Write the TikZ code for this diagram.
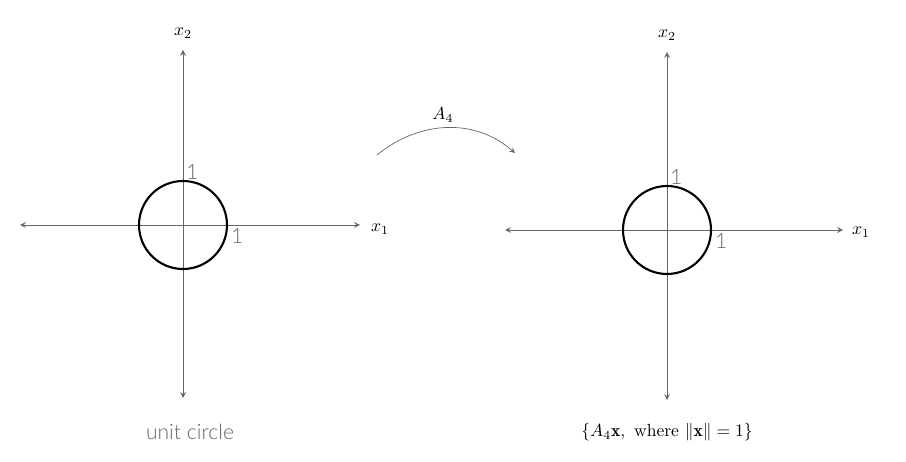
\documentclass[tikz,border=0pt]{standalone}
\usepackage{amsmath}
\usepackage{fontspec}
\newfontfamily\labelfont{Lato Light}
\usetikzlibrary{positioning}
\begin{document}
\begin{tikzpicture}[x=0.02cm,y=-0.02cm,
    axis/.style={gray!80!black,<->,>=stealth,line width=0.5pt},
    unit/.style={font=\labelfont\large,text=gray!80!black,inner sep=1pt},
    circ/.style={line width=1.2pt}]
  \useasboundingbox (0,0) rectangle (906,462);
  % left plane
  \coordinate (lo) at (183,225);
  \draw[axis] (20,225)--(360,225);
  \draw[axis] (183,50)--(183,398);
  \draw[circ] (lo) circle (44);
  \node (lx1) at (380,229) {$x_1$};
  \node (lx2) at (183,33) {$x_2$};
  \node[unit,anchor=south west] (lone1) at (184,182) {1};
  \node[unit,anchor=north west] (lone2) at (229,226) {1};
  \node[font=\labelfont\large,text=gray!80!black] (lcap) at (190,432) {unit circle};
  % right plane
  \coordinate (ro) at (667,230);
  \draw[axis] (505,230)--(843,230);
  \draw[axis] (667,52)--(667,400);
  \draw[circ] (ro) circle (44);
  \node (rx1) at (861,232) {$x_1$};
  \node (rx2) at (667,35) {$x_2$};
  \node[unit,anchor=south west] (rone1) at (668,187) {1};
  \node[unit,anchor=north west] (rone2) at (713,231) {1};
  \node (rcap) at (667,432) {$\{A_4\mathbf{x},\ \text{where } \|\mathbf{x}\|=1\}$};
  % map
  \coordinate (ms) at (377,155);
  \coordinate (me) at (515,153);
  \draw[gray!80!black,->,>=stealth] (ms) .. controls (420,120) and (475,118) .. (me);
  \node (map) at (443,115) {$A_4$};
\end{tikzpicture}
\end{document}
